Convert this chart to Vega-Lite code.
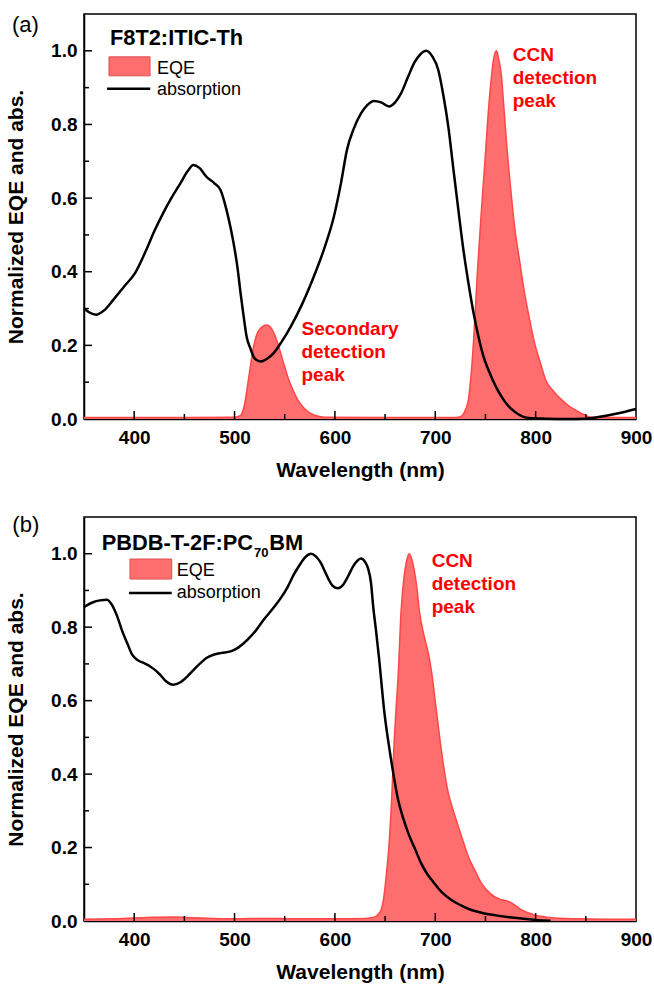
{
  "$schema": "https://vega.github.io/schema/vega-lite/v6.json",
  "padding": {"left": 4, "top": 13, "right": 2, "bottom": 2},
  "background": "white",
  "spacing": 98,
  "bounds": "flush",
  "config": {
    "font": "Liberation Sans",
    "view": {"stroke": "black", "strokeWidth": 1.5},
    "axis": {
      "grid": false,
      "ticks": false,
      "labelFont": "Liberation Sans",
      "labelFontSize": 19,
      "labelFontWeight": "bold",
      "labelColor": "black",
      "labelFlush": false,
      "labelOverlap": false,
      "titleFont": "Liberation Sans",
      "titleFontSize": 21,
      "titleFontWeight": "bold",
      "titleColor": "black",
      "domainColor": "black",
      "domainWidth": 1.5
    }
  },
  "datasets": {
    "absA": [
      {"wl": 350, "v": 0.30}, {"wl": 355, "v": 0.29}, {"wl": 362, "v": 0.283}, {"wl": 370, "v": 0.295},
      {"wl": 379, "v": 0.323}, {"wl": 390, "v": 0.36}, {"wl": 401, "v": 0.397}, {"wl": 412, "v": 0.459},
      {"wl": 420, "v": 0.51}, {"wl": 429, "v": 0.56}, {"wl": 437, "v": 0.60}, {"wl": 446, "v": 0.64},
      {"wl": 453, "v": 0.672}, {"wl": 459, "v": 0.69}, {"wl": 465, "v": 0.682}, {"wl": 472, "v": 0.658},
      {"wl": 480, "v": 0.64}, {"wl": 486, "v": 0.622}, {"wl": 492, "v": 0.568}, {"wl": 496, "v": 0.52},
      {"wl": 499, "v": 0.478}, {"wl": 503, "v": 0.41}, {"wl": 506, "v": 0.342}, {"wl": 509, "v": 0.28},
      {"wl": 512, "v": 0.224}, {"wl": 516, "v": 0.19}, {"wl": 519, "v": 0.169}, {"wl": 522, "v": 0.16},
      {"wl": 526, "v": 0.156}, {"wl": 532, "v": 0.163}, {"wl": 539, "v": 0.179}, {"wl": 547, "v": 0.21},
      {"wl": 556, "v": 0.251}, {"wl": 567, "v": 0.31}, {"wl": 579, "v": 0.387}, {"wl": 589, "v": 0.46},
      {"wl": 599, "v": 0.55}, {"wl": 606, "v": 0.64}, {"wl": 612, "v": 0.731}, {"wl": 619, "v": 0.79},
      {"wl": 626, "v": 0.83}, {"wl": 632, "v": 0.852}, {"wl": 639, "v": 0.864}, {"wl": 646, "v": 0.86},
      {"wl": 654, "v": 0.849}, {"wl": 660, "v": 0.86}, {"wl": 666, "v": 0.885}, {"wl": 673, "v": 0.93},
      {"wl": 679, "v": 0.967}, {"wl": 685, "v": 0.99}, {"wl": 691, "v": 1.0}, {"wl": 697, "v": 0.985},
      {"wl": 703, "v": 0.948}, {"wl": 708, "v": 0.88}, {"wl": 713, "v": 0.794}, {"wl": 718, "v": 0.68},
      {"wl": 723, "v": 0.568}, {"wl": 728, "v": 0.46}, {"wl": 733, "v": 0.37}, {"wl": 738, "v": 0.29},
      {"wl": 743, "v": 0.224}, {"wl": 748, "v": 0.17}, {"wl": 753, "v": 0.133}, {"wl": 760, "v": 0.09},
      {"wl": 766, "v": 0.061}, {"wl": 772, "v": 0.038}, {"wl": 779, "v": 0.02}, {"wl": 786, "v": 0.008},
      {"wl": 793, "v": 0.003}, {"wl": 810, "v": 0.001}, {"wl": 830, "v": 0.0}, {"wl": 850, "v": 0.001},
      {"wl": 860, "v": 0.004}, {"wl": 880, "v": 0.014}, {"wl": 900, "v": 0.027}
    ],
    "eqeA": [
      {"wl": 350, "v": 0.004}, {"wl": 400, "v": 0.004}, {"wl": 450, "v": 0.004}, {"wl": 500, "v": 0.005},
      {"wl": 506, "v": 0.01}, {"wl": 510, "v": 0.04}, {"wl": 514, "v": 0.11}, {"wl": 519, "v": 0.197},
      {"wl": 524, "v": 0.24}, {"wl": 532, "v": 0.255}, {"wl": 538, "v": 0.24}, {"wl": 543, "v": 0.206},
      {"wl": 548, "v": 0.16}, {"wl": 553, "v": 0.115}, {"wl": 558, "v": 0.08}, {"wl": 563, "v": 0.052},
      {"wl": 570, "v": 0.027}, {"wl": 579, "v": 0.011}, {"wl": 590, "v": 0.005}, {"wl": 650, "v": 0.004},
      {"wl": 720, "v": 0.004}, {"wl": 726, "v": 0.008}, {"wl": 730, "v": 0.025}, {"wl": 733, "v": 0.052},
      {"wl": 736, "v": 0.13}, {"wl": 739, "v": 0.25}, {"wl": 742, "v": 0.40}, {"wl": 746, "v": 0.568},
      {"wl": 750, "v": 0.72}, {"wl": 753, "v": 0.84}, {"wl": 756, "v": 0.93}, {"wl": 758, "v": 0.976},
      {"wl": 761, "v": 1.0}, {"wl": 763, "v": 0.98}, {"wl": 766, "v": 0.93}, {"wl": 768, "v": 0.86},
      {"wl": 771, "v": 0.75}, {"wl": 775, "v": 0.63}, {"wl": 779, "v": 0.523}, {"wl": 784, "v": 0.43},
      {"wl": 789, "v": 0.342}, {"wl": 794, "v": 0.27}, {"wl": 799, "v": 0.206}, {"wl": 805, "v": 0.15},
      {"wl": 810, "v": 0.106}, {"wl": 818, "v": 0.075}, {"wl": 826, "v": 0.052}, {"wl": 833, "v": 0.036},
      {"wl": 840, "v": 0.024}, {"wl": 848, "v": 0.012}, {"wl": 855, "v": 0.005}, {"wl": 900, "v": 0.004}
    ],
    "absB": [
      {"wl": 350, "v": 0.855}, {"wl": 359, "v": 0.868}, {"wl": 366, "v": 0.873}, {"wl": 373, "v": 0.875},
      {"wl": 378, "v": 0.86}, {"wl": 383, "v": 0.83}, {"wl": 388, "v": 0.79}, {"wl": 393, "v": 0.757},
      {"wl": 398, "v": 0.725}, {"wl": 403, "v": 0.711}, {"wl": 410, "v": 0.702}, {"wl": 416, "v": 0.693},
      {"wl": 421, "v": 0.683}, {"wl": 426, "v": 0.67}, {"wl": 432, "v": 0.652}, {"wl": 439, "v": 0.643},
      {"wl": 446, "v": 0.65}, {"wl": 453, "v": 0.666}, {"wl": 460, "v": 0.686}, {"wl": 466, "v": 0.702},
      {"wl": 472, "v": 0.716}, {"wl": 479, "v": 0.725}, {"wl": 487, "v": 0.73}, {"wl": 496, "v": 0.734},
      {"wl": 504, "v": 0.745}, {"wl": 513, "v": 0.766}, {"wl": 521, "v": 0.79}, {"wl": 529, "v": 0.82},
      {"wl": 538, "v": 0.85}, {"wl": 546, "v": 0.879}, {"wl": 553, "v": 0.91}, {"wl": 559, "v": 0.943},
      {"wl": 565, "v": 0.97}, {"wl": 571, "v": 0.992}, {"wl": 576, "v": 1.0}, {"wl": 581, "v": 0.993},
      {"wl": 586, "v": 0.975}, {"wl": 590, "v": 0.952}, {"wl": 594, "v": 0.929}, {"wl": 598, "v": 0.912},
      {"wl": 603, "v": 0.906}, {"wl": 608, "v": 0.915}, {"wl": 613, "v": 0.938}, {"wl": 618, "v": 0.965},
      {"wl": 622, "v": 0.98}, {"wl": 626, "v": 0.987}, {"wl": 630, "v": 0.978}, {"wl": 633, "v": 0.96},
      {"wl": 636, "v": 0.92}, {"wl": 638, "v": 0.86}, {"wl": 641, "v": 0.79}, {"wl": 644, "v": 0.715},
      {"wl": 649, "v": 0.575}, {"wl": 656, "v": 0.439}, {"wl": 663, "v": 0.33}, {"wl": 668, "v": 0.28},
      {"wl": 673, "v": 0.24}, {"wl": 680, "v": 0.195}, {"wl": 686, "v": 0.157}, {"wl": 692, "v": 0.128},
      {"wl": 699, "v": 0.103}, {"wl": 707, "v": 0.077}, {"wl": 716, "v": 0.057}, {"wl": 726, "v": 0.042},
      {"wl": 736, "v": 0.03}, {"wl": 747, "v": 0.022}, {"wl": 759, "v": 0.016}, {"wl": 772, "v": 0.011},
      {"wl": 786, "v": 0.007}, {"wl": 800, "v": 0.003}, {"wl": 815, "v": 0.001}
    ],
    "eqeB": [
      {"wl": 350, "v": 0.005}, {"wl": 380, "v": 0.006}, {"wl": 400, "v": 0.008}, {"wl": 420, "v": 0.01},
      {"wl": 440, "v": 0.011}, {"wl": 460, "v": 0.009}, {"wl": 480, "v": 0.007}, {"wl": 500, "v": 0.006},
      {"wl": 530, "v": 0.007}, {"wl": 560, "v": 0.006}, {"wl": 600, "v": 0.006}, {"wl": 630, "v": 0.007},
      {"wl": 639, "v": 0.01}, {"wl": 643, "v": 0.018}, {"wl": 646, "v": 0.03}, {"wl": 649, "v": 0.07},
      {"wl": 651, "v": 0.12}, {"wl": 654, "v": 0.21}, {"wl": 656, "v": 0.30}, {"wl": 659, "v": 0.485},
      {"wl": 661, "v": 0.58}, {"wl": 663, "v": 0.666}, {"wl": 666, "v": 0.847}, {"wl": 669, "v": 0.94},
      {"wl": 671, "v": 0.975}, {"wl": 674, "v": 1.0}, {"wl": 676, "v": 0.99}, {"wl": 679, "v": 0.956},
      {"wl": 682, "v": 0.9}, {"wl": 684, "v": 0.847}, {"wl": 689, "v": 0.775}, {"wl": 693, "v": 0.73},
      {"wl": 696, "v": 0.684}, {"wl": 701, "v": 0.575}, {"wl": 706, "v": 0.466}, {"wl": 713, "v": 0.348},
      {"wl": 718, "v": 0.3}, {"wl": 723, "v": 0.257}, {"wl": 728, "v": 0.215}, {"wl": 733, "v": 0.175},
      {"wl": 740, "v": 0.135}, {"wl": 746, "v": 0.103}, {"wl": 752, "v": 0.082}, {"wl": 759, "v": 0.066},
      {"wl": 766, "v": 0.058}, {"wl": 773, "v": 0.053}, {"wl": 780, "v": 0.042}, {"wl": 786, "v": 0.03},
      {"wl": 793, "v": 0.022}, {"wl": 799, "v": 0.016}, {"wl": 810, "v": 0.011}, {"wl": 819, "v": 0.008},
      {"wl": 840, "v": 0.006}, {"wl": 870, "v": 0.005}, {"wl": 900, "v": 0.005}
    ],
    "ticksX": [
      {"wl": 400, "v": 0, "v2": 0.0217}, {"wl": 450, "v": 0, "v2": 0.0136}, {"wl": 500, "v": 0, "v2": 0.0217},
      {"wl": 550, "v": 0, "v2": 0.0136}, {"wl": 600, "v": 0, "v2": 0.0217}, {"wl": 650, "v": 0, "v2": 0.0136},
      {"wl": 700, "v": 0, "v2": 0.0217}, {"wl": 750, "v": 0, "v2": 0.0136}, {"wl": 800, "v": 0, "v2": 0.0217},
      {"wl": 850, "v": 0, "v2": 0.0136}
    ],
    "ticksY": [
      {"wl": 350, "wl2": 355, "v": 0.1}, {"wl": 350, "wl2": 358, "v": 0.2}, {"wl": 350, "wl2": 355, "v": 0.3},
      {"wl": 350, "wl2": 358, "v": 0.4}, {"wl": 350, "wl2": 355, "v": 0.5}, {"wl": 350, "wl2": 358, "v": 0.6},
      {"wl": 350, "wl2": 355, "v": 0.7}, {"wl": 350, "wl2": 358, "v": 0.8}, {"wl": 350, "wl2": 355, "v": 0.9},
      {"wl": 350, "wl2": 358, "v": 1.0}
    ],
    "letterA": [{"wl": 278.3, "v": 1.05, "t": "(a)"}],
    "letterB": [{"wl": 278.6, "v": 1.06, "t": "(b)"}],
    "titleA": [{"wl": 375.9, "v": 1.016, "t": "F8T2:ITIC-Th"}],
    "titleB": [{"wl": 367.6, "v": 1.011, "t": "PBDB-T-2F:PC"}, {"wl": 534.5, "v": 1.011, "t": "BM"}],
    "subB": [{"wl": 519.5, "v": 0.992, "t": "70"}],
    "legRectA": [{"wl": 374.9, "wl2": 415.8, "v": 0.9837, "v2": 0.932}],
    "legRuleA": [{"wl": 373, "wl2": 416, "v": 0.8967}],
    "legTextA": [{"wl": 422.7, "v": 0.9375, "t": "EQE"}, {"wl": 422.7, "v": 0.880, "t": "absorption"}],
    "legRectB": [{"wl": 395.8, "wl2": 437.4, "v": 0.9856, "v2": 0.931}],
    "legRuleB": [{"wl": 394.8, "wl2": 437.4, "v": 0.893}],
    "legTextB": [{"wl": 442.4, "v": 0.938, "t": "EQE"}, {"wl": 442.4, "v": 0.879, "t": "absorption"}],
    "noteA": [{"wl": 566.7, "v": 0.228, "t": "Secondary\ndetection\npeak"}, {"wl": 777.2, "v": 0.9736, "t": "CCN\ndetection\npeak"}],
    "noteB": [{"wl": 696.4, "v": 0.965, "t": "CCN\ndetection\npeak"}]
  },
  "vconcat": [
    {
      "width": 552,
      "height": 405,
      "layer": [
        {
          "data": {"name": "eqeA"},
          "mark": {"type": "area", "fill": "#ff6e6e", "opacity": 1, "interpolate": "monotone", "line": {"color": "#ff4747", "strokeWidth": 1.5}},
          "encoding": {
            "x": {"field": "wl", "type": "quantitative", "scale": {"domain": [350, 900], "nice": false},
              "axis": {"title": "Wavelength (nm)", "values": [400, 500, 600, 700, 800, 900],
                "labelPadding": 9, "titlePadding": 12}},
            "y": {"field": "v", "type": "quantitative", "scale": {"domain": [0, 1.1], "nice": false},
              "axis": {"title": "Normalized EQE and abs.", "values": [0, 0.2, 0.4, 0.6, 0.8, 1.0], "format": ".1f",
                "labelPadding": 7, "titleX": -68, "titleBaseline": "middle"}}
          }
        },
        {
          "data": {"name": "absA"},
          "mark": {"type": "line", "color": "black", "strokeWidth": 2.5, "interpolate": "monotone"},
          "encoding": {"x": {"field": "wl", "type": "quantitative"}, "y": {"field": "v", "type": "quantitative"}}
        },
        {
          "data": {"name": "ticksX"},
          "mark": {"type": "rule", "color": "black", "strokeWidth": 1.5},
          "encoding": {"x": {"field": "wl", "type": "quantitative"}, "y": {"field": "v", "type": "quantitative"}, "y2": {"field": "v2"}}
        },
        {
          "data": {"name": "ticksY"},
          "mark": {"type": "rule", "color": "black", "strokeWidth": 1.5},
          "encoding": {"x": {"field": "wl", "type": "quantitative"}, "x2": {"field": "wl2"}, "y": {"field": "v", "type": "quantitative"}}
        },
        {
          "data": {"name": "legRectA"},
          "mark": {"type": "rect", "fill": "#ff6e6e", "stroke": "#e05050", "strokeWidth": 1},
          "encoding": {"x": {"field": "wl", "type": "quantitative"}, "x2": {"field": "wl2"}, "y": {"field": "v", "type": "quantitative"}, "y2": {"field": "v2"}}
        },
        {
          "data": {"name": "legRuleA"},
          "mark": {"type": "rule", "color": "black", "strokeWidth": 2.5},
          "encoding": {"x": {"field": "wl", "type": "quantitative"}, "x2": {"field": "wl2"}, "y": {"field": "v", "type": "quantitative"}}
        },
        {
          "data": {"name": "legTextA"},
          "mark": {"type": "text", "align": "left", "baseline": "alphabetic", "fontSize": 18, "font": "Liberation Sans", "color": "black"},
          "encoding": {"x": {"field": "wl", "type": "quantitative"}, "y": {"field": "v", "type": "quantitative"}, "text": {"field": "t"}}
        },
        {
          "data": {"name": "titleA"},
          "mark": {"type": "text", "align": "left", "baseline": "alphabetic", "fontSize": 21.8, "fontWeight": "bold", "font": "Liberation Sans", "color": "black"},
          "encoding": {"x": {"field": "wl", "type": "quantitative"}, "y": {"field": "v", "type": "quantitative"}, "text": {"field": "t"}}
        },
        {
          "data": {"name": "letterA"},
          "mark": {"type": "text", "align": "left", "baseline": "alphabetic", "fontSize": 22, "font": "Liberation Sans", "color": "black"},
          "encoding": {"x": {"field": "wl", "type": "quantitative"}, "y": {"field": "v", "type": "quantitative"}, "text": {"field": "t"}}
        },
        {
          "data": {"name": "noteA"},
          "mark": {"type": "text", "align": "left", "baseline": "alphabetic", "fontSize": 19, "fontWeight": "bold", "font": "Liberation Sans", "color": "#ff0000", "lineBreak": "\n", "lineHeight": 23},
          "encoding": {"x": {"field": "wl", "type": "quantitative"}, "y": {"field": "v", "type": "quantitative"}, "text": {"field": "t"}}
        }
      ]
    },
    {
      "width": 552,
      "height": 404,
      "layer": [
        {
          "data": {"name": "eqeB"},
          "mark": {"type": "area", "fill": "#ff6e6e", "opacity": 1, "interpolate": "monotone", "line": {"color": "#ff4747", "strokeWidth": 1.5}},
          "encoding": {
            "x": {"field": "wl", "type": "quantitative", "scale": {"domain": [350, 900], "nice": false},
              "axis": {"title": "Wavelength (nm)", "values": [400, 500, 600, 700, 800, 900],
                "labelPadding": 9, "titlePadding": 12}},
            "y": {"field": "v", "type": "quantitative", "scale": {"domain": [0, 1.1], "nice": false},
              "axis": {"title": "Normalized EQE and abs.", "values": [0, 0.2, 0.4, 0.6, 0.8, 1.0], "format": ".1f",
                "labelPadding": 7, "titleX": -68, "titleBaseline": "middle"}}
          }
        },
        {
          "data": {"name": "absB"},
          "mark": {"type": "line", "color": "black", "strokeWidth": 2.5, "interpolate": "monotone"},
          "encoding": {"x": {"field": "wl", "type": "quantitative"}, "y": {"field": "v", "type": "quantitative"}}
        },
        {
          "data": {"name": "ticksX"},
          "mark": {"type": "rule", "color": "black", "strokeWidth": 1.5},
          "encoding": {"x": {"field": "wl", "type": "quantitative"}, "y": {"field": "v", "type": "quantitative"}, "y2": {"field": "v2"}}
        },
        {
          "data": {"name": "ticksY"},
          "mark": {"type": "rule", "color": "black", "strokeWidth": 1.5},
          "encoding": {"x": {"field": "wl", "type": "quantitative"}, "x2": {"field": "wl2"}, "y": {"field": "v", "type": "quantitative"}}
        },
        {
          "data": {"name": "legRectB"},
          "mark": {"type": "rect", "fill": "#ff6e6e", "stroke": "#e05050", "strokeWidth": 1},
          "encoding": {"x": {"field": "wl", "type": "quantitative"}, "x2": {"field": "wl2"}, "y": {"field": "v", "type": "quantitative"}, "y2": {"field": "v2"}}
        },
        {
          "data": {"name": "legRuleB"},
          "mark": {"type": "rule", "color": "black", "strokeWidth": 2.5},
          "encoding": {"x": {"field": "wl", "type": "quantitative"}, "x2": {"field": "wl2"}, "y": {"field": "v", "type": "quantitative"}}
        },
        {
          "data": {"name": "legTextB"},
          "mark": {"type": "text", "align": "left", "baseline": "alphabetic", "fontSize": 18, "font": "Liberation Sans", "color": "black"},
          "encoding": {"x": {"field": "wl", "type": "quantitative"}, "y": {"field": "v", "type": "quantitative"}, "text": {"field": "t"}}
        },
        {
          "data": {"name": "titleB"},
          "mark": {"type": "text", "align": "left", "baseline": "alphabetic", "fontSize": 21.8, "fontWeight": "bold", "font": "Liberation Sans", "color": "black"},
          "encoding": {"x": {"field": "wl", "type": "quantitative"}, "y": {"field": "v", "type": "quantitative"}, "text": {"field": "t"}}
        },
        {
          "data": {"name": "subB"},
          "mark": {"type": "text", "align": "left", "baseline": "alphabetic", "fontSize": 13, "fontWeight": "bold", "font": "Liberation Sans", "color": "black"},
          "encoding": {"x": {"field": "wl", "type": "quantitative"}, "y": {"field": "v", "type": "quantitative"}, "text": {"field": "t"}}
        },
        {
          "data": {"name": "letterB"},
          "mark": {"type": "text", "align": "left", "baseline": "alphabetic", "fontSize": 22, "font": "Liberation Sans", "color": "black"},
          "encoding": {"x": {"field": "wl", "type": "quantitative"}, "y": {"field": "v", "type": "quantitative"}, "text": {"field": "t"}}
        },
        {
          "data": {"name": "noteB"},
          "mark": {"type": "text", "align": "left", "baseline": "alphabetic", "fontSize": 19, "fontWeight": "bold", "font": "Liberation Sans", "color": "#ff0000", "lineBreak": "\n", "lineHeight": 23},
          "encoding": {"x": {"field": "wl", "type": "quantitative"}, "y": {"field": "v", "type": "quantitative"}, "text": {"field": "t"}}
        }
      ]
    }
  ]
}
